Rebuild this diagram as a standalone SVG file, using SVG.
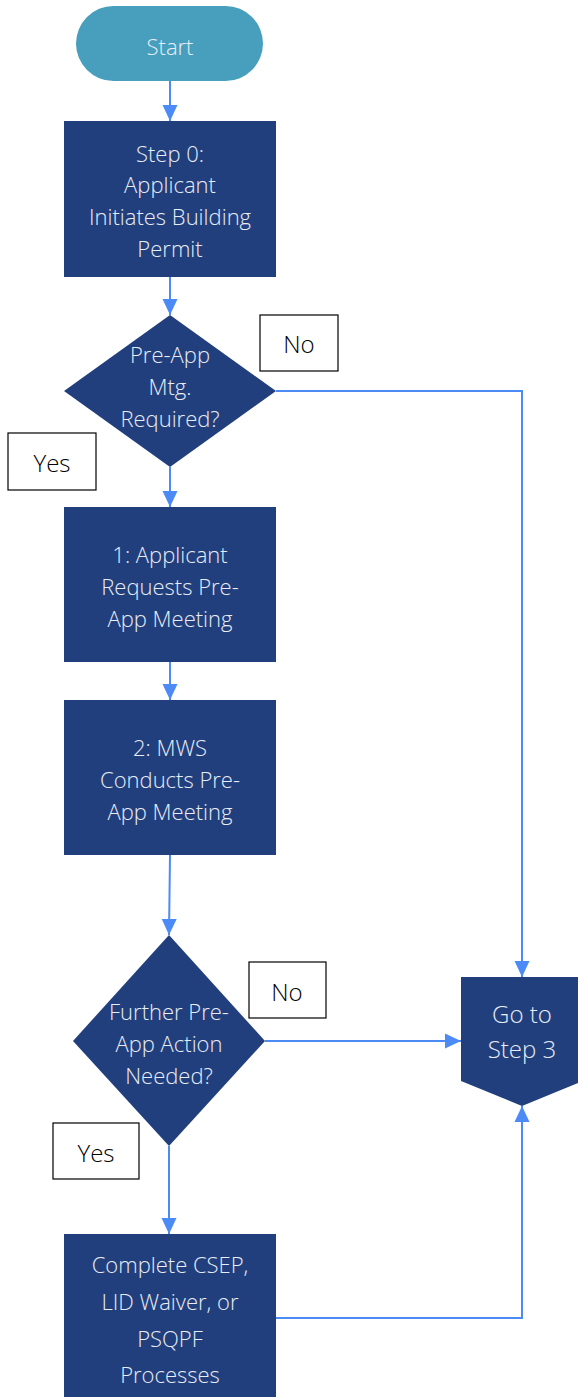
<svg xmlns="http://www.w3.org/2000/svg" width="578" height="1397" viewBox="0 0 578 1397">
<style>
.node{fill:#223F7D}
.start{fill:#479FBD}
.t{font-family:"Open Sans","Liberation Sans",Arial,sans-serif;font-weight:300;font-size:22px;fill:#E8EDF6;text-anchor:middle}
.big{font-size:24px}
.lbl{fill:#fff;stroke:#000;stroke-width:1.2}
.lt{font-family:"Open Sans","Liberation Sans",Arial,sans-serif;font-weight:300;font-size:24px;fill:#000;text-anchor:middle}
.c{fill:none;stroke:#4C8BF5;stroke-width:2;marker-end:url(#ah)}
</style>
<defs>
<marker id="ah" markerUnits="userSpaceOnUse" markerWidth="16" markerHeight="16" viewBox="0 0 16 16" refX="16" refY="8" orient="auto">
<path d="M0,0.5 L16,8 L0,15.5 Z" fill="#4C8BF5"/>
</marker>
</defs>
<g id="connectors">
<path class="c" d="M170,81 V121"/>
<path class="c" d="M170,277 V315"/>
<path class="c" d="M276,391 H522 V977"/>
<path class="c" d="M170,467 V507"/>
<path class="c" d="M170,662 V700"/>
<path class="c" d="M170,855 L169,935"/>
<path class="c" d="M265,1041 H461"/>
<path class="c" d="M169,1146 V1234"/>
<path class="c" d="M276,1318 H522 V1106"/>
</g>
<g id="start">
<rect class="start" x="76" y="6" width="187" height="75" rx="37.5"/>
<text class="t" x="170" y="55">Start</text>
</g>
<g id="step0">
<rect class="node" x="64" y="121" width="212" height="156"/>
<text class="t" x="170" y="162">Step 0:</text>
<text class="t" x="170" y="193">Applicant</text>
<text class="t" x="170" y="225">Initiates Building</text>
<text class="t" x="170" y="257">Permit</text>
</g>
<g id="decision1">
<polygon class="node" points="170,315 276,391 170,467 64,391"/>
<text class="t" x="170" y="363">Pre-App</text>
<text class="t" x="170" y="395">Mtg.</text>
<text class="t" x="170" y="427">Required?</text>
</g>
<g id="label-no1">
<rect class="lbl" x="260" y="315" width="78" height="56"/>
<text class="lt" x="299" y="353">No</text>
</g>
<g id="label-yes1">
<rect class="lbl" x="8" y="433" width="88" height="57"/>
<text class="lt" x="52" y="472">Yes</text>
</g>
<g id="step1">
<rect class="node" x="64" y="507" width="212" height="155"/>
<text class="t" x="170" y="563">1: Applicant</text>
<text class="t" x="170" y="595">Requests Pre-</text>
<text class="t" x="170" y="627">App Meeting</text>
</g>
<g id="step2">
<rect class="node" x="64" y="700" width="212" height="155"/>
<text class="t" x="170" y="756">2: MWS</text>
<text class="t" x="170" y="788">Conducts Pre-</text>
<text class="t" x="170" y="820">App Meeting</text>
</g>
<g id="decision2">
<polygon class="node" points="169,935 265,1041 169,1146 73,1041"/>
<text class="t" x="169" y="1020">Further Pre-</text>
<text class="t" x="169" y="1052">App Action</text>
<text class="t" x="169" y="1084">Needed?</text>
</g>
<g id="label-no2">
<rect class="lbl" x="249" y="962" width="77" height="56"/>
<text class="lt" x="287" y="1001">No</text>
</g>
<g id="label-yes2">
<rect class="lbl" x="53" y="1123" width="86" height="56"/>
<text class="lt" x="96" y="1162">Yes</text>
</g>
<g id="goto3">
<polygon class="node" points="461,977 583,977 583,1081 522,1106 461,1081"/>
<text class="t big" x="522" y="1023">Go to</text>
<text class="t big" x="522" y="1058">Step 3</text>
</g>
<g id="step-complete">
<rect class="node" x="64" y="1234" width="212" height="163"/>
<text class="t" x="170" y="1273">Complete CSEP,</text>
<text class="t" x="170" y="1310">LID Waiver, or</text>
<text class="t" x="170" y="1347">PSQPF</text>
<text class="t" x="170" y="1383">Processes</text>
</g>
</svg>
